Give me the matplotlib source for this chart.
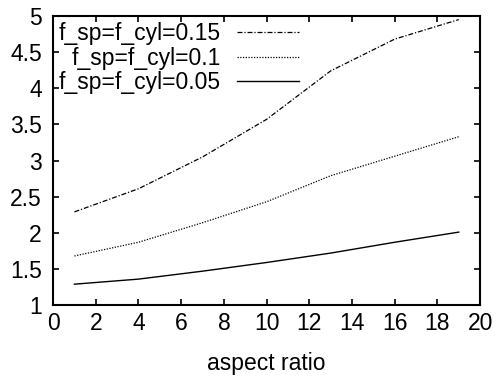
import matplotlib
matplotlib.use("Agg")
import matplotlib.pyplot as plt
from matplotlib.ticker import MultipleLocator, FormatStrFormatter

plt.rcParams['font.family'] = ['Liberation Sans', 'DejaVu Sans']

aspect = [1, 4, 7, 10, 13, 16, 19]
f015 = [2.29, 2.61, 3.05, 3.57, 4.24, 4.68, 4.95]
f010 = [1.68, 1.87, 2.14, 2.43, 2.79, 3.06, 3.33]
f005 = [1.29, 1.36, 1.47, 1.59, 1.72, 1.87, 2.01]
labels = ["f_sp=f_cyl=0.15", "f_sp=f_cyl=0.1", "f_sp=f_cyl=0.05"]

FS = 16.5

fig = plt.figure(figsize=(4.96, 3.8), dpi=100)
ax = fig.add_axes([0.107, 0.197, 0.861, 0.761])

ax.plot(aspect, f015, color="black", lw=0.9, ls=(0, (4, 1.5, 1, 1.5)), label=labels[0])
ax.plot(aspect, f010, color="black", lw=0.9, ls=(0, (1, 1.2)), label=labels[1])
ax.plot(aspect, f005, color="black", lw=1.0, ls="-", label=labels[2])

ax.set_xlim(0, 20)
ax.set_ylim(1, 5)
ax.xaxis.set_major_locator(MultipleLocator(2))
ax.yaxis.set_major_locator(MultipleLocator(0.5))
ax.yaxis.set_major_formatter(FormatStrFormatter("%g"))
ax.tick_params(direction="in", top=True, right=True, length=4, width=1.2,
               labelsize=FS)
ax.tick_params(axis="x", pad=5)
ax.tick_params(axis="y", pad=8)
for s in ax.spines.values():
    s.set_linewidth(1.5)
ax.set_xlabel("aspect ratio", fontsize=FS, labelpad=12)

# markerfirst=False -> gnuplot-style right-justified keys with samples on the right
ax.legend(loc="upper left", frameon=False, markerfirst=False, fontsize=FS,
          handlelength=2.7, handletextpad=0.7, labelspacing=0.08,
          borderaxespad=0.0, borderpad=0.25)

fig.savefig("out.png", dpi=100)
